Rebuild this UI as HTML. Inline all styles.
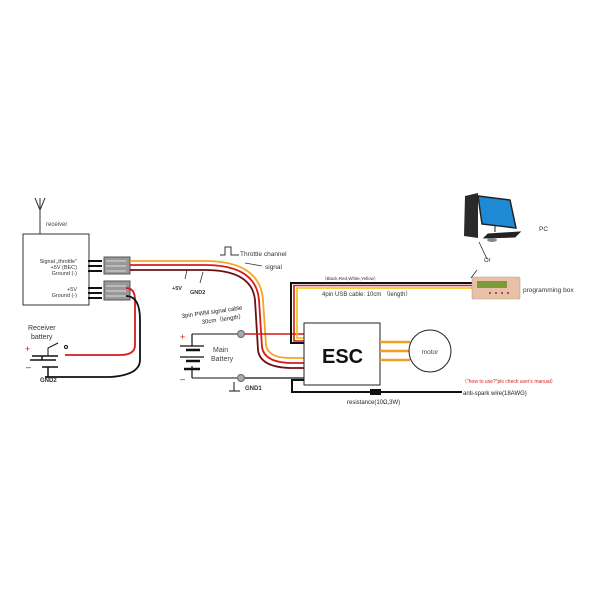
<!DOCTYPE html>
<html><head><style>
body{margin:0;background:#fff}
svg{display:block}
text{font-family:"Liberation Sans",sans-serif}
</style></head><body>
<svg width="600" height="600" viewBox="0 0 600 600" xmlns="http://www.w3.org/2000/svg">
<path d="M40 235 V200 M40 210 L35 198 M40 210 L45 198 M40 210 V198" stroke="#333" stroke-width="1" fill="none"/>
<text x="46" y="226" font-size="6" fill="#444">receiver</text>
<rect x="23" y="234" width="66" height="71" fill="#fff" stroke="#333" stroke-width="1"/>
<g font-size="5.5" fill="#333" text-anchor="end">
<text x="77" y="263">Signal „throttle"</text>
<text x="77" y="269">+5V (BEC)</text>
<text x="77" y="275">Ground (-)</text>
<text x="77" y="291">+5V</text>
<text x="77" y="297">Ground (-)</text>
</g>
<g stroke="#111" stroke-width="2">
<path d="M88 261h14M88 266h14M88 271h14M88 288h14M88 293h14M88 298h14"/>
</g>
<rect x="104" y="257" width="26" height="17" fill="#999" stroke="#555"/>
<rect x="104" y="281" width="26" height="19" fill="#999" stroke="#555"/>
<path d="M106 261h20M106 266h20M106 271h20M106 286h20M106 291h20M106 296h20" stroke="#ddd" stroke-width="1"/>
<path d="M126 288 Q135 288 135 300 V345 Q135 355 120 355 H65" stroke="#d41c1c" stroke-width="1.8" fill="none"/>
<path d="M126 296 Q140 296 140 320 V360 Q140 375 110 377 H45" stroke="#111" stroke-width="1.8" fill="none"/>
<text x="28" y="330" font-size="7" fill="#333">Receiver</text>
<text x="31" y="339" font-size="7" fill="#333">battery</text>
<text x="25" y="352" font-size="9" fill="#d41c1c">+</text>
<text x="26" y="370" font-size="9" fill="#333">–</text>
<path d="M32 356h26 M42 356 V360 M30 360h26 M42 367h16 M48 367 V377" stroke="#111" stroke-width="1.5" fill="none"/>
<path d="M48 356 V348 L58 343" stroke="#111" stroke-width="1" fill="none"/>
<circle cx="66" cy="347" r="1.5" fill="#fff" stroke="#111"/>
<text x="40" y="382" font-size="6" font-weight="bold" fill="#333">GND2</text>
<g fill="none" stroke-width="1.8">
<path d="M130 261 H205 Q260 261 263 300 L266 345 Q268 358 290 358 H304" stroke="#f5a623"/>
<path d="M130 265 H205 Q256 265 259 300 L262 347 Q264 362 290 363 H304" stroke="#d41c1c"/>
<path d="M130 270 H205 Q252 270 255 300 L258 350 Q260 367 290 368 H304" stroke="#6b1010"/>
</g>
<path d="M220 255h5v-8h6v8h8" stroke="#333" fill="none" stroke-width="1"/>
<text x="240" y="256" font-size="6.5" fill="#333">Throttle channel</text>
<text x="265" y="269" font-size="6.5" fill="#333">signal</text>
<path d="M262 266 L245 263" stroke="#333" stroke-width="0.8"/>
<path d="M185 279 L187 270 M200 283 L203 272" stroke="#333" stroke-width="0.8"/>
<text x="172" y="290" font-size="5.5" font-weight="bold" fill="#333">+5V</text>
<text x="190" y="294" font-size="5.5" font-weight="bold" fill="#333">GND2</text>
<text x="182" y="318" font-size="6" fill="#222" transform="rotate(-8 182 318)">3pin PWM signal cable</text>
<text x="202" y="324" font-size="6" fill="#222" transform="rotate(-8 202 324)">30cm（length）</text>
<text x="180" y="340" font-size="9" fill="#d41c1c">+</text>
<text x="180" y="382" font-size="9" fill="#333">–</text>
<path d="M192 334 V346 M180 346h24 M186 350h14 M180 357h24 M186 361h14 M192 366 V378" stroke="#111" stroke-width="1.2" fill="none"/>
<path d="M186 350h14 M186 361h14 M184 369h16" stroke="#111" stroke-width="2.5"/>
<path d="M192 334 H240 M192 378 H240" stroke="#111" stroke-width="1"/>
<path d="M240 334 H304" stroke="#d41c1c" stroke-width="1.4"/>
<path d="M240 378 H304" stroke="#111" stroke-width="1.2"/>
<circle cx="241" cy="334" r="3.5" fill="#aaa" stroke="#666"/>
<circle cx="241" cy="378" r="3.5" fill="#aaa" stroke="#666"/>
<text x="213" y="352" font-size="7" fill="#444">Main</text>
<text x="211" y="361" font-size="7" fill="#444">Battery</text>
<path d="M234 382 V391 M229 391h11" stroke="#111" stroke-width="1"/>
<text x="245" y="390" font-size="6" font-weight="bold" fill="#333">GND1</text>
<path d="M472 283 H291 V343 H304" stroke="#111" stroke-width="2" fill="none"/>
<path d="M472 285.5 H294 V341 H304" stroke="#d41c1c" stroke-width="1.6" fill="none"/>
<path d="M472 288 H297 V338 H304" stroke="#f2c200" stroke-width="1.6" fill="none"/>
<text x="322" y="280" font-size="4.5" fill="#333">（Black,Red,White,Yellow）</text>
<text x="322" y="296" font-size="6" fill="#333">4pin USB cable: 10cm （length）</text>
<rect x="304" y="323" width="76" height="62" fill="#fff" stroke="#222" stroke-width="1"/>
<text x="322" y="363" font-size="20" font-weight="bold" fill="#111">ESC</text>
<path d="M380 342h30 M380 351h30 M380 360h30" stroke="#f0a020" stroke-width="2.5"/>
<circle cx="430" cy="351" r="21" fill="#fff" stroke="#222" stroke-width="1"/>
<text x="430" y="354" font-size="6.5" text-anchor="middle" fill="#444">motor</text>
<path d="M304 380 H292 V392 H462" stroke="#111" stroke-width="2" fill="none"/>
<rect x="370" y="389" width="11" height="6" fill="#111"/>
<text x="347" y="404" font-size="6" fill="#222">resistance(10Ω,3W)</text>
<text x="463" y="395" font-size="6" fill="#222">anti-spark wire(18AWG)</text>
<text x="462" y="383" font-size="5" fill="#d41c1c">（"how to use?"pls check user's manual）</text>
<rect x="472" y="277" width="48" height="22" rx="1" fill="#e8c0a8" stroke="#aa8" stroke-width="0.6"/>
<rect x="477" y="281" width="30" height="7" fill="#7c9a3a"/>
<g fill="#733"><circle cx="490" cy="293" r="1"/><circle cx="496" cy="293" r="1"/><circle cx="502" cy="293" r="1"/><circle cx="508" cy="293" r="1"/></g>
<text x="523" y="292" font-size="6.5" fill="#333">programming box</text>
<path d="M465 196 L478 193 L478 238 L464 236 Z" fill="#2a2a2a"/>
<path d="M478 196 L510 200 L516 228 L482 224 Z" fill="#1e8ad6" stroke="#222" stroke-width="1.5"/>
<path d="M495 226 V232 M488 234 L520 232 L515 237 L484 238 Z" fill="#222" stroke="#222"/>
<ellipse cx="492" cy="240" rx="5" ry="2" fill="#888"/>
<text x="539" y="231" font-size="6.5" fill="#333">PC</text>
<path d="M487 259 L479 242 M477 270 L471 278" stroke="#333" stroke-width="0.8"/>
<text x="484" y="262" font-size="6" fill="#333">Or</text>
</svg>
</body></html>
